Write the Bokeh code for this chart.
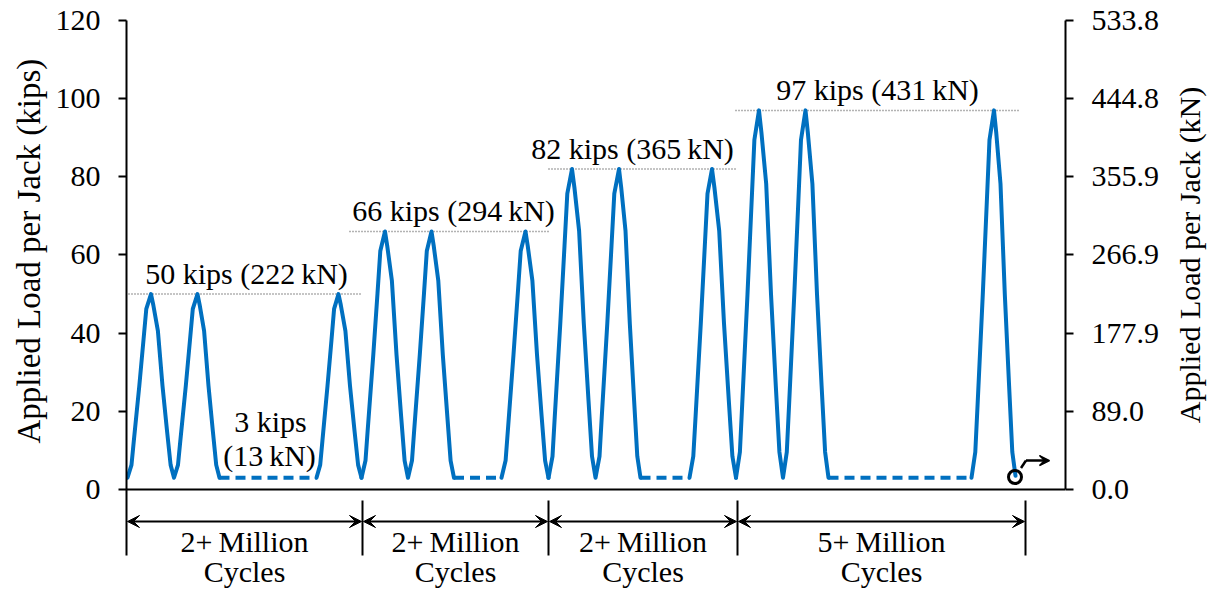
import math
from bokeh.plotting import figure
from bokeh.models import Range1d, LinearAxis, FixedTicker, Arrow, VeeHead
from bokeh.layouts import row
from bokeh.core.properties import value
from bokeh.embed import file_html
from bokeh.resources import INLINE

FONT = "Liberation Serif"
BLUE = "#0070C0"
FS = "30px"

# ---------------- data (time in arbitrary units, load in kips) ----------------
g1_a_t = [127, 131.0, 133.3, 138.8, 143.0, 145.8, 150.5, 152.8, 157.4, 162.0, 166.6, 170.1, 173.5,
          177.5, 179.8, 185.3, 189.5, 192.3, 197, 199.2, 203.6, 208, 212.4, 215.7, 219]
g1_a_kips = [3, 6.3, 12.4, 26.5, 38.3, 46.2, 50, 47.2, 40.6, 26.5, 14.8, 6.3, 3,
             6.3, 12.4, 26.5, 38.3, 46.2, 50, 47.2, 40.6, 26.5, 14.8, 6.3, 3]
g1_b_t = [316, 319.7, 321.9, 327, 331, 333.6, 338, 340.3, 344.9, 349.5, 354.1, 357.6, 361]
g1_b_kips = [3, 6.3, 12.4, 26.5, 38.3, 46.2, 50, 47.2, 40.6, 26.5, 14.8, 6.3, 3]

g2_a_t = [361, 365, 367.3, 372.8, 377, 379.8, 384.5, 386.8, 391.4, 396, 400.6, 404.1, 407.5,
          411.5, 413.8, 419.3, 423.5, 426.3, 431, 433.3, 437.8, 442.3, 446.8, 450.1, 453.5]
g2_a_kips = [3, 7.4, 15.6, 34.5, 50.2, 61, 66, 62.2, 53.4, 34.5, 18.8, 7.4, 3,
             7.4, 15.6, 34.5, 50.2, 61, 66, 62.2, 53.4, 34.5, 18.8, 7.4, 3]
g2_b_t = [501, 505.1, 507.5, 513, 517.3, 520.2, 525, 527.3, 531.9, 536.5, 541.1, 544.6, 548]
g2_b_kips = [3, 7.4, 15.6, 34.5, 50.2, 61, 66, 62.2, 53.4, 34.5, 18.8, 7.4, 3]

g3_a_t = [548, 552, 554.3, 559.8, 564, 566.8, 571.5, 573.9, 578.6, 583.3, 588, 591.5, 595,
          599, 601.3, 606.8, 611, 613.8, 618.5, 620.7, 625, 629.3, 633.6, 636.8, 640]
g3_a_kips = [3, 8.5, 18.8, 42.5, 62.3, 75.7, 82, 77.3, 66.2, 42.5, 22.8, 8.5, 3,
             8.5, 18.8, 42.5, 62.3, 75.7, 82, 77.3, 66.2, 42.5, 22.8, 8.5, 3]
g3_b_t = [689, 692.8, 695.1, 700.3, 704.3, 707, 711.5, 713.9, 718.7, 723.5, 728.3, 731.9, 735.5]
g3_b_kips = [3, 8.5, 18.8, 42.5, 62.3, 75.7, 82, 77.3, 66.2, 42.5, 22.8, 8.5, 3]

g4_a_t = [735.5, 739.4, 741.7, 747, 751.1, 753.9, 758.5, 760.9, 765.7, 770.5, 775.3, 778.9, 782.5,
          786.3, 788.6, 793.8, 797.8, 800.5, 805, 807.3, 811.9, 816.5, 821.1, 824.6, 828]
g4_a_kips = [3, 9.6, 21.8, 50, 73.5, 89.5, 97, 91.4, 78.2, 50, 26.5, 9.6, 3,
             9.6, 21.8, 50, 73.5, 89.5, 97, 91.4, 78.2, 50, 26.5, 9.6, 3]
g4_b_t = [971, 974.8, 977.1, 982.3, 986.3, 989, 993.5, 995.7, 1000, 1004.3, 1008.6, 1011.8, 1015]
g4_b_kips = [3, 9.6, 21.8, 50, 73.5, 89.5, 97, 91.4, 78.2, 50, 26.5, 9.6, 3.5]

# constant low-load (3 kips) holds, shown dashed
hold_start = [219, 453.5, 640, 828]
hold_end = [316, 501, 689, 971]
hold_kips = 3

# peak loads per block and their extents
peak_kips = [50, 66, 82, 97]
peak_kn = [222, 294, 365, 431]
peak_line_start = [128, 349, 548, 735]
peak_line_end = [362, 548, 737, 1018]
peak_label_t = [246, 453, 632, 877]

# block boundaries and cycle counts
block_bounds = [126, 362, 548, 737, 1025]
block_cycles = ["2+\u2009Million", "2+\u2009Million", "2+\u2009Million", "5+\u2009Million"]

# axes
kips_ticks = [0, 20, 40, 60, 80, 100, 120]
kn_tick_labels = ["0.0", "89.0", "177.9", "266.9", "355.9", "444.8", "533.8"]
left_title = "Applied Load per Jack (kips)"
right_title = "Applied Load per Jack (kN)"

end_t = 1014.5
end_kips = 3.2

H = 591
TOP = 20
FRAME_H = 571
yr = Range1d(-26.1, 120)

common = dict(height=H, frame_height=FRAME_H, y_range=yr, x_axis_type=None, y_axis_type=None,
              toolbar_location=None, output_backend="svg", min_border_top=TOP,
              min_border_bottom=0, outline_line_color=None,
              background_fill_color="white", border_fill_color="white")

# ---------------- left title strip ----------------
lf = figure(width=50, frame_width=50, x_range=Range1d(0, 50),
            min_border_left=0, min_border_right=0, **common)
lf.text(x=[28], y=[61], text=[left_title], angle=math.pi / 2, text_font=value(FONT),
        text_font_size=value("33px"), text_align="center", text_baseline="middle",
        text_color="black")

# ---------------- main figure ----------------
p = figure(width=1115, frame_width=939, x_range=Range1d(126, 1065),
           min_border_left=76, min_border_right=100, **common)
# secondary vertical scale for the annotation strip under the axis (top of frame -> bottom)
p.extra_y_ranges = {"strip": Range1d(591, 20)}


def style_axis(ax):
    ax.axis_line_width = 2
    ax.axis_line_color = "black"
    ax.major_tick_line_width = 2
    ax.major_tick_line_color = "black"
    ax.major_tick_out = 8
    ax.major_tick_in = 0
    ax.minor_tick_out = 0
    ax.minor_tick_in = 0
    ax.major_label_standoff = 18
    ax.major_label_text_font = FONT
    ax.major_label_text_font_size = FS
    ax.major_label_text_color = "black"


left = LinearAxis(ticker=FixedTicker(ticks=kips_ticks), bounds=(-16.9, 120))
style_axis(left)
p.add_layout(left, "left")

right = LinearAxis(ticker=FixedTicker(ticks=kips_ticks), bounds=(0, 120))
style_axis(right)
right.major_label_overrides = {k: s for k, s in zip(kips_ticks, kn_tick_labels)}
p.add_layout(right, "right")

# x axis line
p.line([126, 1065], [0, 0], line_color="black", line_width=2)

# peak reference lines
for s, e, k in zip(peak_line_start, peak_line_end, peak_kips):
    p.line([s, e], [k, k], line_color="#666666", line_width=1.5, line_dash="1 2")

# waveform
for ts, ks in [(g1_a_t, g1_a_kips), (g1_b_t, g1_b_kips), (g2_a_t, g2_a_kips), (g2_b_t, g2_b_kips),
               (g3_a_t, g3_a_kips), (g3_b_t, g3_b_kips), (g4_a_t, g4_a_kips), (g4_b_t, g4_b_kips)]:
    p.line(ts, ks, line_color=BLUE, line_width=4, line_join="round", line_cap="round")

for s, e in zip(hold_start, hold_end):
    p.line([s, e], [hold_kips, hold_kips], line_color=BLUE, line_width=4, line_dash="10 6")

# labels
p.text(x=peak_label_t, y=[k + 5.3 for k in peak_kips],
       text=[f"{k} kips ({n}\u2009kN)" for k, n in zip(peak_kips, peak_kn)],
       text_font=value(FONT), text_font_size=value(FS), text_align="center",
       text_baseline="alphabetic", text_color="black")
p.text(x=[270, 269], y=[17.4, 8.7], text=[f"{hold_kips} kips", "(13\u2009kN)"],
       text_font=value(FONT), text_font_size=value(FS), text_align="center",
       text_baseline="alphabetic", text_color="black")

# end marker
p.scatter([end_t], [end_kips], marker="circle", size=13, fill_color=None,
          line_color="black", line_width=3)
p.line([1020.5, 1025.5], [5.5, 7.4], line_color="black", line_width=2.5)
p.add_layout(Arrow(x_start=1025.5, y_start=7.4, x_end=1049, y_end=7.4, line_width=2.5,
                   line_color="black",
                   end=VeeHead(size=10, line_color="black", fill_color="black", line_width=1.5),
                   start=None))

# ---------------- annotation strip under the axis ----------------
inner = block_bounds[1:]
p.segment(x0=inner, y0=[500] * len(inner), x1=inner, y1=[555] * len(inner),
          line_color="black", line_width=2, y_range_name="strip")
for a, b in zip(block_bounds[:-1], block_bounds[1:]):
    p.add_layout(Arrow(x_start=a + 1, y_start=521, x_end=b - 1, y_end=521, line_width=2,
                       line_color="black", y_range_name="strip",
                       start=VeeHead(size=12, line_color="black", fill_color="black", line_width=1),
                       end=VeeHead(size=12, line_color="black", fill_color="black", line_width=1)))
mids = [(a + b) / 2 for a, b in zip(block_bounds[:-1], block_bounds[1:])]
p.text(x=mids, y=[541] * len(mids), text=block_cycles, text_font=value(FONT),
       text_font_size=value(FS), text_align="center", text_baseline="alphabetic",
       text_color="black", y_range_name="strip")
p.text(x=mids, y=[571] * len(mids), text=["Cycles"] * len(mids), text_font=value(FONT),
       text_font_size=value(FS), text_align="center", text_baseline="alphabetic",
       text_color="black", y_range_name="strip")

# ---------------- right title strip ----------------
rf = figure(width=46, frame_width=46, x_range=Range1d(1165, 1211),
            min_border_left=0, min_border_right=0, **common)
rf.text(x=[1189], y=[60], text=[right_title], angle=math.pi / 2, text_font=value(FONT),
        text_font_size=value(FS), text_align="center", text_baseline="middle",
        text_color="black")

layout = row(lf, p, rf, spacing=0)
open("out.html", "w").write(file_html(layout, INLINE))
